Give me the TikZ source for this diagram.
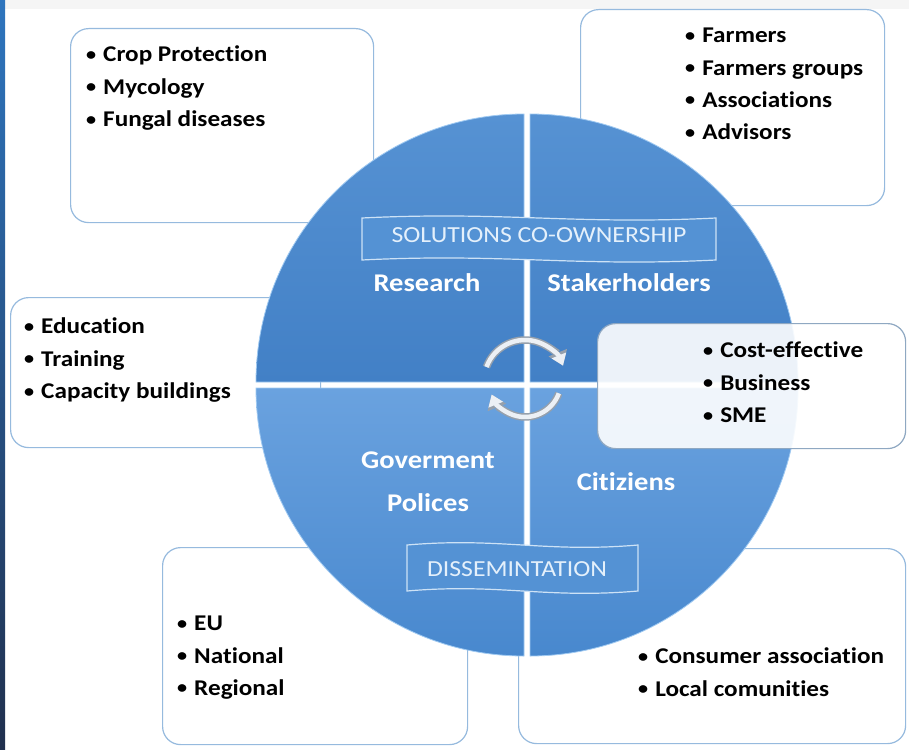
\documentclass[tikz,border=0pt]{standalone}
\usepackage{fontspec}
\setmainfont{Carlito}[FakeStretch=1.12, Ligatures=CommonOff]
\usetikzlibrary{arrows.meta}

\definecolor{cadre}{RGB}{150,186,222}
\definecolor{qa}{RGB}{86,146,211}
\definecolor{qb}{RGB}{66,128,198}
\definecolor{qc}{RGB}{106,162,223}
\definecolor{qd}{RGB}{72,136,206}
\definecolor{biseau}{RGB}{160,202,242}
\definecolor{bandefond}{RGB}{84,146,212}
\definecolor{bandebord}{RGB}{205,226,246}
\definecolor{bandetxt}{RGB}{228,240,251}
\definecolor{argent}{RGB}{236,240,245}
\definecolor{ombre}{RGB}{150,160,172}
\definecolor{bordA}{RGB}{46,117,190}
\definecolor{bordB}{RGB}{32,48,78}

\tikzset{
  boite/.style={draw=cadre, line width=1.2pt, rounded corners=18pt, fill=white,
                anchor=north west, inner sep=0pt},
  liste/.style={anchor=north west, align=left, inner sep=0pt,
                font=\fontsize{22.5}{32.3}\selectfont\bfseries},
  titre/.style={text=white, align=center, inner sep=0pt,
                font=\fontsize{25.5}{43}\selectfont\bfseries},
  bande/.style={text=bandetxt, inner sep=0pt, font=\fontsize{23}{26}\selectfont},
  vague/.style={draw=bandebord, line width=1.2pt, fill=bandefond},
  fleche/.style={line width=4.5pt, draw=argent, -{Triangle[length=11pt,width=15pt]}},
  flecheombre/.style={line width=7.5pt, draw=ombre, -{Triangle[length=14pt,width=19pt]}},
}

\newcommand{\puce}{{\fontsize{18}{18}\selectfont\raisebox{1.5pt}{•}}\hspace{7pt}}

% left, top, right, height, wave
\newcommand{\banniere}[5]{%
  \path[vague] (#1,#2) .. controls +({0.4*(#3-#1)},-#5) and +({-0.4*(#3-#1)},#5) .. (#3,#2)
    -- (#3,#2+#4) .. controls +({-0.4*(#3-#1)},#5) and +({0.4*(#3-#1)},-#5) .. (#1,#2+#4)
    -- cycle;}

\begin{document}
\begin{tikzpicture}[x=1pt,y=-1pt]
  \useasboundingbox (0,0) rectangle (909,749);
  \fill[black!4] (0,0) rectangle (909,9);
  \shade[top color=bordA, bottom color=bordB] (0,0) rectangle (5,749);

  % boites sous le disque
  \node[boite, minimum width=303pt, minimum height=194pt] (b1) at (70,28)  {};
  \node[boite, minimum width=304pt, minimum height=196pt] (b2) at (580,9)  {};
  \node[boite, minimum width=310pt, minimum height=150pt] (b3) at (10,297) {};
  \node[boite, minimum width=305pt, minimum height=197pt] (b5) at (162,547) {};
  \node[boite, minimum width=387pt, minimum height=195pt] (b6) at (518,548) {};

  % disque en quatre quartiers
  \foreach \cx/\cy/\a/\hc/\bc in {524/382/180/qa/qb, 530/382/270/qa/qb,
                                  530/388/0/qc/qd,   524/388/90/qc/qd} {
    \shade[top color=\hc, bottom color=\bc, draw=biseau, line width=.8pt]
      (\cx,\cy) -- ++(\a:268) arc[start angle=\a, delta angle=90, radius=268] -- cycle;
  }

  \node[boite, minimum width=308pt, minimum height=125pt, fill opacity=.9,
        draw=cadre!70!gray] (b4) at (597,323) {};

  % listes
  \node[liste] (l1) at (86,46)   {\puce Crop Protection\\ \puce Mycology\\ \puce Fungal diseases};
  \node[liste] (l2) at (685,28)  {\puce Farmers\\ \puce Farmers groups\\ \puce Associations\\ \puce Advisors};
  \node[liste] (l3) at (24,318)  {\puce Education\\ \puce Training\\ \puce Capacity buildings};
  \node[liste] (l4) at (703,342) {\puce Cost-effective\\ \puce Business\\ \puce SME};
  \node[liste] (l5) at (177,616) {\puce EU\\ \puce National\\ \puce Regional};
  \node[liste] (l6) at (638,648) {\puce Consumer association\\ \puce Local comunities};

  % bandeaux
  \banniere{362}{218}{716}{42}{7}
  \node[bande] (sol) at (539,235) {SOLUTIONS CO-OWNERSHIP};
  \banniere{407}{545}{638}{46}{8}
  \node[bande] (dis) at (517,569) {DISSEMINTATION};

  % titres des quartiers
  \node[titre] (res) at (427,283) {Research};
  \node[titre] (sta) at (629,283) {Stakerholders};
  \node[titre] (gov) at (428,482) {Goverment\\ Polices};
  \node[titre] (cit) at (626,482) {Citiziens};

  % cycle
  \coordinate (hub) at (525,381);
  \draw[flecheombre] ([shift={(-160:41)}]hub) arc[start angle=-160, end angle=-22, radius=41];
  \draw[fleche]      ([shift={(-160:41)}]hub) arc[start angle=-160, end angle=-22, radius=41];
  \draw[flecheombre] ([shift={(20:36)}]hub)   arc[start angle=20, end angle=158, radius=36];
  \draw[fleche]      ([shift={(20:36)}]hub)   arc[start angle=20, end angle=158, radius=36];
\end{tikzpicture}
\end{document}
